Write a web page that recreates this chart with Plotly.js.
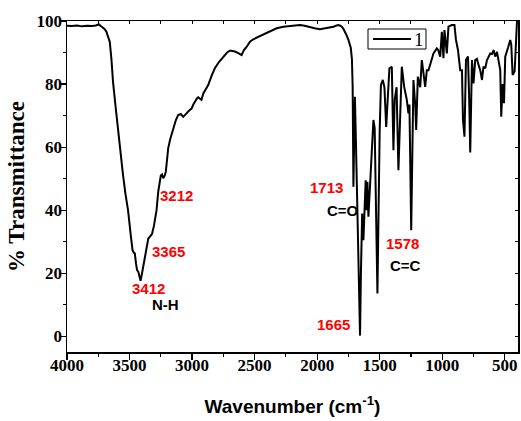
<!DOCTYPE html>
<html>
<head>
<meta charset="utf-8">
<script src="https://cdn.plot.ly/plotly-3.0.1.min.js"></script>
<style>html,body{margin:0;padding:0;background:#fff;}#chart{width:521px;height:421px;}</style>
</head>
<body>
<div id="chart"></div>
<script>
const wavenumber = [4000,3960,3920,3880,3840,3800,3770,3745,3730,3712,3700,3685,3670,3658,3645,3632,3612,3592,3572,3552,3532,3512,3490,3476,3465,3458,3448,3440,3430,3422,3412,3400,3392,3380,3364,3350,3338,3320,3305,3284,3270,3263,3250,3240,3231,3218,3210,3200,3191,3175,3151,3130,3111,3090,3071,3055,3044,3025,3004,2990,2978,2960,2951,2938,2925,2910,2890,2871,2845,2818,2785,2751,2720,2697,2675,2657,2630,2604,2592,2585,2560,2537,2510,2484,2440,2404,2360,2324,2270,2217,2137,2100,2057,2020,1977,1950,1923,1900,1870,1850,1830,1815,1803,1790,1777,1765,1750,1740,1731,1722,1716,1710,1704,1698,1690,1665,1657,1650,1640,1630,1620,1612,1605,1598,1590,1569,1550,1540,1518,1500,1490,1475,1462,1448,1422,1403,1390,1380,1365,1350,1323,1304,1283,1270,1262,1248,1230,1216,1208,1195,1176,1163,1150,1136,1123,1110,1090,1070,1043,1032,1016,1003,990,982,963,950,923,902,890,874,856,842,834,822,810,794,784,776,762,750,736,722,709,696,682,670,656,642,616,602,589,576,562,549,536,528,517,506,496,474,456,448,437,421,410,402];
const transmittance = [98.5,98.4,98.6,98.3,98.5,98.4,98.6,98.9,98.4,98.0,97.5,96.6,95.0,93.4,88.0,80.7,73.0,64.9,58.0,51.1,45.0,40.0,32.0,27.3,26.5,26.3,23.0,21.0,20.5,19.5,17.6,20.0,22.0,25.0,28.3,31.0,31.5,32.5,35.0,40.0,46.0,48.5,51.0,51.3,50.1,51.0,52.2,56.0,59.6,62.5,65.9,68.5,70.2,70.5,69.6,70.4,70.7,71.5,72.2,73.5,74.4,75.5,75.8,75.5,75.0,77.0,78.5,79.7,82.5,85.0,87.0,88.7,90.0,90.6,90.5,90.3,89.8,89.2,90.2,90.8,92.0,93.4,94.2,94.7,95.5,96.1,97.0,97.7,98.2,98.4,98.7,98.5,98.0,97.7,97.4,97.6,97.7,97.9,98.2,98.5,98.7,98.5,98.2,97.5,96.6,95.5,94.0,92.5,91.5,88.0,79.0,47.4,68.0,76.0,62.0,10.0,0.2,20.0,38.9,30.5,42.0,49.5,40.0,49.0,37.9,52.7,68.6,66.0,13.6,65.0,79.7,81.3,79.0,66.4,85.0,85.5,59.0,75.0,79.0,52.7,85.5,79.1,75.0,70.7,73.5,33.6,81.3,73.5,65.4,82.3,79.0,87.6,82.5,79.1,84.4,84.4,87.0,89.7,91.3,90.8,88.7,96.6,88.2,97.1,89.7,98.2,98.7,98.7,94.0,90.8,84.4,84.4,68.6,63.3,87.6,88.7,74.9,58.3,87.6,80.2,87.6,88.0,86.0,84.4,81.3,85.5,85.0,87.6,89.7,89.5,90.8,88.7,90.2,86.6,84.4,69.6,80.0,73.9,88.7,91.5,94.0,92.5,82.9,84.0,96.1,100.0];
const seriesName = "1";
const xRange = [4000, 394];
const yRange = [-5, 100];
const xTickVals = [4000, 3500, 3000, 2500, 2000, 1500, 1000, 500];
const xTickLabels = ["4000", "3500", "3000", "2500", "2000", "1500", "1000", "500"];
const yTickVals = [0, 20, 40, 60, 80, 100];
const yTickLabels = ["0", "20", "40", "60", "80", "100"];
const peakLabels = ["3212", "3365", "3412", "1713", "1665", "1578"];
const peakX = [3124, 3191, 3351, 1925, 1868, 1314];
const peakY = [44.5, 26.8, 15.0, 47.3, 3.8, 29.5];
const groupLabels = ["N-H", "C=O", "C=C"];
const groupX = [3211, 1795, 1292];
const groupY = [10.0, 39.8, 22.5];

const serif = "Liberation Serif, Times New Roman, serif";
const sans = "Liberation Sans, Arial, sans-serif";

const PL = 67, PT = 21, PW = 451, PH = 331;
const px = v => (v - PL) / PW;
const py = v => 1 - (v - PT) / PH;

const annotations = [];
peakLabels.forEach((t, i) => annotations.push({
  x: peakX[i], y: peakY[i], xref: 'x', yref: 'y', text: '<b>' + t + '</b>', showarrow: false,
  font: {family: sans, size: 15, color: '#ff0000'}
}));
groupLabels.forEach((t, i) => annotations.push({
  x: groupX[i], y: groupY[i], xref: 'x', yref: 'y', text: '<b>' + t + '</b>', showarrow: false,
  font: {family: sans, size: 15, color: '#000'}
}));
annotations.push({
  x: px(419), y: py(39.5), xref: 'paper', yref: 'paper', xanchor: 'center', yanchor: 'middle',
  text: seriesName, showarrow: false,
  font: {family: serif, size: 19, color: '#000'}
});

const shapes = [
  {type: 'rect', xref: 'paper', yref: 'paper', x0: px(368), x1: px(426), y0: py(49), y1: py(29),
   line: {color: '#000', width: 1}, fillcolor: 'rgba(0,0,0,0)'},
  {type: 'line', xref: 'paper', yref: 'paper', x0: px(373), x1: px(411), y0: py(39), y1: py(39),
   line: {color: '#000', width: 2}}
];

const data = [
  {x: wavenumber, y: transmittance, type: 'scatter', mode: 'lines', name: seriesName,
   line: {color: '#000', width: 2}},
  {x: wavenumber, y: transmittance, type: 'scatter', mode: 'lines', name: seriesName,
   xaxis: 'x2', yaxis: 'y2', opacity: 0, showlegend: false, hoverinfo: 'skip',
   line: {color: '#000', width: 0}}
];

const layout = {
  width: 521, height: 421,
  margin: {l: PL, r: 521 - PL - PW, t: PT, b: 421 - PT - PH},
  paper_bgcolor: '#fff', plot_bgcolor: '#fff',
  showlegend: false,
  xaxis: {
    range: xRange, tickvals: xTickVals, ticktext: xTickLabels.map(t => '<b>' + t + '</b>'),
    showgrid: false, zeroline: false, showline: true, linecolor: '#000', linewidth: 1.5,
    ticks: 'outside', ticklen: 6, tickwidth: 1.2, tickcolor: '#000', ticklabelstandoff: -9,
    minor: {tick0: 0, dtick: 250, ticks: 'outside', ticklen: 3, tickwidth: 1.2, tickcolor: '#000'},
    tickfont: {family: serif, size: 17, color: '#000'},
    title: {text: '<b>Wavenumber (cm<sup>-1</sup>)</b>', standoff: 26,
      font: {family: sans, size: 19, color: '#000'}}
  },
  yaxis: {
    range: yRange, tickvals: yTickVals, ticktext: yTickLabels.map(t => '<b>' + t + '</b>'),
    showgrid: false, zeroline: false, showline: true, linecolor: '#000', linewidth: 1.5,
    ticks: 'outside', ticklen: 6, tickwidth: 1.2, tickcolor: '#000', ticklabelstandoff: -6,
    minor: {tick0: 0, dtick: 10, ticks: 'outside', ticklen: 3, tickwidth: 1.2, tickcolor: '#000'},
    tickfont: {family: serif, size: 17, color: '#000'},
    title: {text: '<b>% Transmittance</b>', standoff: 5,
      font: {family: serif, size: 23, color: '#000'}}
  },
  xaxis2: {
    overlaying: 'x', side: 'top', anchor: 'y2', range: xRange, dtick: 250, tick0: 0,
    showgrid: false, zeroline: false, showline: true, linecolor: '#000', linewidth: 1.5,
    ticks: 'inside', ticklen: 3, tickwidth: 1, tickcolor: '#000', showticklabels: false
  },
  yaxis2: {
    overlaying: 'y', side: 'right', anchor: 'x2', range: yRange, dtick: 10, tick0: 0,
    showgrid: false, zeroline: false, showline: true, linecolor: '#000', linewidth: 1.5,
    ticks: 'inside', ticklen: 3, tickwidth: 1, tickcolor: '#000', showticklabels: false
  },
  shapes: shapes,
  annotations: annotations
};

Plotly.newPlot('chart', data, layout, {staticPlot: true, displayModeBar: false});
</script>
</body>
</html>
